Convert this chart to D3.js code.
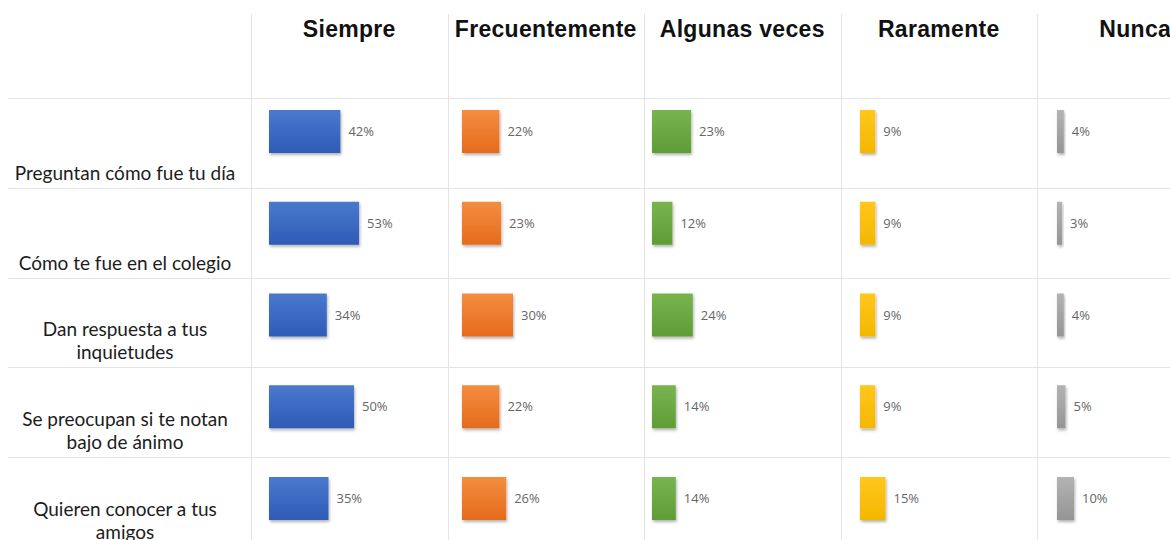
<!DOCTYPE html>
<html>
<head>
<meta charset="utf-8">
<script src="https://cdn.jsdelivr.net/npm/d3@7"></script>
<style>
  body { margin: 0; background: #fff; }
  .head { font-family: "Liberation Sans", Arial, sans-serif; font-weight: bold; font-size: 23px; letter-spacing: 0.3px; fill: #111; }
  .rowlab { font-family: Lato, "Open Sans", sans-serif; font-size: 19px; fill: #1c1c1c; }
  .val { font-family: "Open Sans", sans-serif; font-size: 13px; fill: #666; }
  .grid { stroke: #e4e4e4; stroke-width: 1; }
</style>
</head>
<body>
<div id="chart"></div>
<script>
"use strict";

let categories = ['Siempre', 'Frecuentemente', 'Algunas veces', 'Raramente', 'Nunca'];

let rows = [
  ['Preguntan cómo fue tu día'],
  ['Cómo te fue en el colegio'],
  ['Dan respuesta a tus', 'inquietudes'],
  ['Se preocupan si te notan', 'bajo de ánimo'],
  ['Quieren conocer a tus', 'amigos']
];

// one array per answer, in row order
let siempre = [42, 53, 34, 50, 35];
let frecuentemente = [22, 23, 30, 22, 26];
let algunasVeces = [23, 12, 24, 14, 14];
let raramente = [9, 9, 9, 9, 15];
let nunca = [4, 3, 4, 5, 10];

let series = [siempre, frecuentemente, algunasVeces, raramente, nunca];
let colors = [
  ['#4a79cd', '#2f5bb6'],
  ['#f48d3f', '#e56b1d'],
  ['#79b44f', '#5e9d37'],
  ['#ffc71c', '#f4b700'],
  ['#b3b3b3', '#959595']
];
// where the bar starts inside each column (the cells are not aligned evenly)
let barOffset = [18, 14.5, 8, 19.5, 20];

let width = 1170;
let height = 540;

let svg = d3.select('#chart')
  .append('svg')
  .attr('width', width)
  .attr('height', height);

let defs = svg.append('defs');
colors.forEach((c, i) => {
  let g = defs.append('linearGradient')
    .attr('id', 'grad' + i)
    .attr('x1', 0).attr('y1', 0).attr('x2', 0).attr('y2', 1);
  g.append('stop').attr('offset', '0%').attr('stop-color', c[0]);
  g.append('stop').attr('offset', '100%').attr('stop-color', c[1]);
});
defs.append('filter')
  .attr('id', 'shadow')
  .attr('x', '-30%').attr('y', '-30%').attr('width', '160%').attr('height', '160%')
  .append('feDropShadow')
  .attr('dx', 1).attr('dy', 2).attr('stdDeviation', 1.5)
  .attr('flood-color', '#000').attr('flood-opacity', 0.3);

let rowKeys = rows.map((r, i) => i);

let xCol = d3.scaleBand()
  .domain(categories)
  .range([251, 251 + 5 * 196.5]);

let yRow = d3.scaleBand()
  .domain(rowKeys)
  .range([98, 98 + 5 * 89.75]);

let yBar = d3.scaleBand()
  .domain(rowKeys)
  .range([110, 110 + 5 * 91.75]);

let xVal = d3.scaleLinear()
  .domain([0, 100])
  .range([0, 170]);

let barHeight = 43;

// grid lines
svg.append('g')
  .selectAll('line')
  .data(rowKeys.concat([rowKeys.length]))
  .join('line')
  .attr('class', 'grid')
  .attr('x1', 8)
  .attr('x2', width)
  .attr('y1', d => Math.round(d < rowKeys.length ? yRow(d) : yRow.range()[1]) + 0.5)
  .attr('y2', d => Math.round(d < rowKeys.length ? yRow(d) : yRow.range()[1]) + 0.5);

svg.append('g')
  .selectAll('line')
  .data(categories)
  .join('line')
  .attr('class', 'grid')
  .attr('x1', d => Math.round(xCol(d)) + 0.5)
  .attr('x2', d => Math.round(xCol(d)) + 0.5)
  .attr('y1', 14)
  .attr('y2', height);

// column headers
svg.append('g')
  .selectAll('text')
  .data(categories)
  .join('text')
  .attr('class', 'head')
  .attr('x', d => xCol(d) + xCol.bandwidth() / 2)
  .attr('y', 37)
  .attr('text-anchor', 'middle')
  .text(d => d);

// row labels, last line sits just above the row's bottom line
let labels = svg.append('g')
  .selectAll('text')
  .data(rows)
  .join('text')
  .attr('class', 'rowlab')
  .attr('text-anchor', 'middle');

labels.each(function (lines, i) {
  let bottom = yRow(i) + yRow.bandwidth() - 8;
  d3.select(this).selectAll('tspan')
    .data(lines)
    .join('tspan')
    .attr('x', 125)
    .attr('y', (d, j) => bottom - (lines.length - 1 - j) * 23)
    .text(d => d);
});

// bars and value labels
series.forEach((vals, c) => {
  let cat = categories[c];
  let x0 = xCol(cat) + barOffset[c];
  let g = svg.append('g');

  g.selectAll('rect')
    .data(vals)
    .join('rect')
    .attr('x', x0)
    .attr('y', (d, i) => yBar(i))
    .attr('width', d => xVal(d))
    .attr('height', barHeight)
    .attr('fill', 'url(#grad' + c + ')')
    .attr('filter', 'url(#shadow)');

  g.selectAll('text')
    .data(vals)
    .join('text')
    .attr('class', 'val')
    .attr('x', d => x0 + xVal(d) + 8)
    .attr('y', (d, i) => yBar(i) + barHeight / 2)
    .attr('dy', '0.35em')
    .text(d => d + '%');
});
</script>
</body>
</html>
